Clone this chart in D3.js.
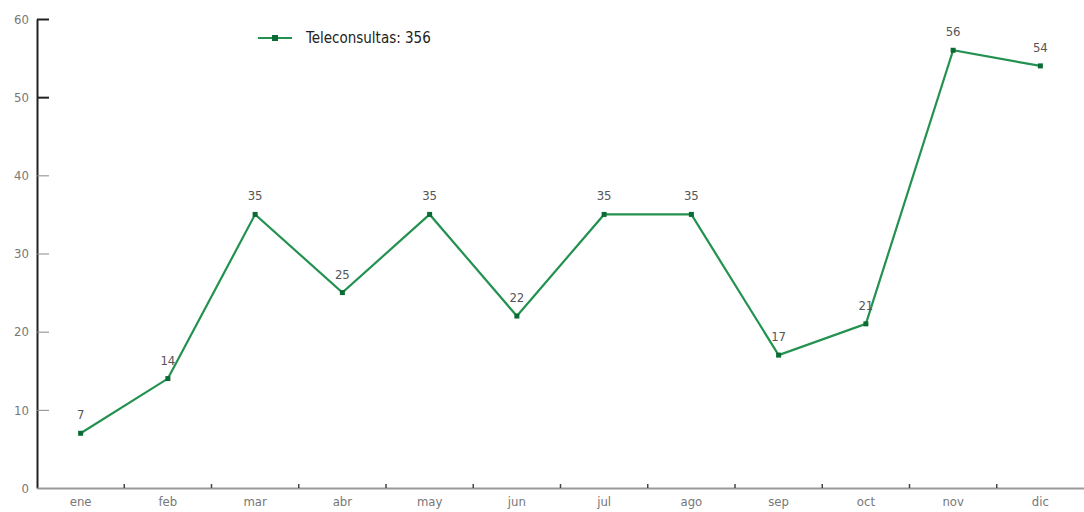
<!DOCTYPE html>
<html><head><meta charset="utf-8">
<script src="https://cdn.jsdelivr.net/npm/d3@7"></script>
<style>
body{margin:0;background:#fff;}
text{font-family:"DejaVu Sans","Liberation Sans",sans-serif;font-stretch:condensed;}
</style></head>
<body><svg id="c" width="1084" height="512"></svg>
<script>
const months = ["ene","feb","mar","abr","may","jun","jul","ago","sep","oct","nov","dic"];
const teleconsultas = [7,14,35,25,35,22,35,35,17,21,56,54];
const yTicks = [0,10,20,30,40,50,60];
const seriesName = "Teleconsultas";
const total = 356;

const svg = d3.select("#c");
const m = {left:37, right:0, top:19, bottom:24};
const W = 1084, H = 512;
const x = d3.scaleBand().domain(months).range([m.left, W - m.right]);
const y = d3.scaleLinear().domain([0,60]).range([488, m.top]);

// y axis
const ya = svg.append("g").attr("transform",`translate(${m.left},0)`)
  .call(d3.axisLeft(y).tickValues(yTicks).tickSize(0).tickPadding(8));
ya.select(".domain").attr("stroke","#222").attr("stroke-width",2);
ya.selectAll("text").attr("fill","#777").attr("font-size",13);
ya.selectAll(".tick").append("line").attr("x1",0).attr("x2",12)
  .attr("stroke", d => d>=50 ? "#222" : "#888").attr("stroke-width", d => d>=50 ? 2 : 1);

// x axis
const xa = svg.append("g").attr("transform",`translate(0,${y(0)})`)
  .call(d3.axisBottom(x).tickSize(0).tickPadding(9));
xa.select(".domain").attr("stroke","#999").attr("stroke-width",2);
xa.selectAll("text").attr("fill","#777").attr("font-size",13);
xa.selectAll(".bd").data(months.slice(1)).enter().append("line")
  .attr("x1", d => x(d)).attr("x2", d => x(d)).attr("y1",0).attr("y2",-4)
  .attr("stroke","#444").attr("stroke-width",1.5);

// line
const cx = d => x(d) + x.bandwidth()/2;
const pts = months.map((mo,i)=>({mo, v:teleconsultas[i]}));
svg.append("path").datum(pts)
  .attr("fill","none").attr("stroke","#23914f").attr("stroke-width",2.2)
  .attr("d", d3.line().x(d=>cx(d.mo)).y(d=>y(d.v)));
svg.selectAll(".pt").data(pts).enter().append("rect")
  .attr("x", d=>cx(d.mo)-2.5).attr("y", d=>y(d.v)-2.5).attr("width",5).attr("height",5)
  .attr("fill","#0b6b34");
svg.selectAll(".lbl").data(pts).enter().append("text")
  .attr("x", d=>cx(d.mo)).attr("y", d=>y(d.v)-14)
  .attr("text-anchor","middle").attr("font-size",13).attr("fill","#555")
  .text(d=>d.v);

// legend
const lg = svg.append("g");
lg.append("line").attr("x1",258).attr("x2",292).attr("y1",38).attr("y2",38)
  .attr("stroke","#23914f").attr("stroke-width",2);
lg.append("rect").attr("x",272).attr("y",35).attr("width",6).attr("height",6).attr("fill","#0b6b34");
lg.append("text").attr("x",306).attr("y",43).attr("font-size",15).attr("fill","#222")
  .text(`${seriesName}: ${total}`);
</script></body></html>
